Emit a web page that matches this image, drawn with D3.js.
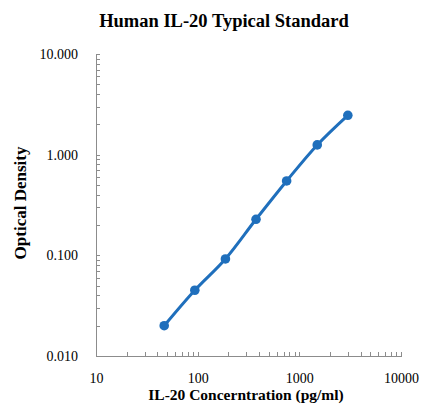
<!DOCTYPE html>
<html lang="en">
<head>
<meta charset="UTF-8">
<title>Human IL-20 Typical Standard</title>
<style>
  body { margin: 0; background: #fff; }
  svg { font-family: "Liberation Serif", "Times New Roman", serif; }
  .axis path, .axis line { stroke: #8c8c8c; fill: none; shape-rendering: crispEdges; }
  .axis text { font-size: 14px; fill: #000; font-family: "Liberation Serif", serif; }
  .title { font-size: 18.5px; font-weight: bold; }
  .label { font-weight: bold; }
</style>
<script src="https://d3js.org/d3.v7.min.js"></script>
</head>
<body>
<div id="chart"></div>
<script>
  const concentration = [46.875, 93.75, 187.5, 375, 750, 1500, 3000];
  const opticalDensity = [0.020, 0.045, 0.092, 0.228, 0.548, 1.25, 2.46];
  const xTicks = [10, 100, 1000, 10000];
  const yTicks = [0.01, 0.1, 1, 10];

  const width = 423, height = 405;
  const margin = { top: 54, right: 22, bottom: 49, left: 96 };

  const svg = d3.select("#chart").append("svg")
    .attr("width", width).attr("height", height);

  const x = d3.scaleLog().domain([10, 10000]).range([margin.left, width - margin.right]);
  const y = d3.scaleLog().domain([0.01, 10]).range([height - margin.bottom, margin.top]);

  // minor ticks for each decade
  const minor = (lo, hi) => {
    const out = [];
    for (let d = lo; d < hi; d *= 10)
      for (let k = 1; k <= 10; k++) out.push(d * k);
    return out;
  };

  svg.append("g").attr("class", "axis")
    .attr("transform", `translate(0,${height - margin.bottom})`)
    .call(d3.axisBottom(x).tickValues(minor(10, 10000)).tickSize(-4).tickFormat(""));

  svg.append("g").attr("class", "axis")
    .attr("transform", `translate(0,${height - margin.bottom})`)
    .call(d3.axisBottom(x).tickValues(xTicks).tickSize(0).tickPadding(17).tickFormat(d3.format("d")))
    .select(".domain").remove();

  svg.append("g").attr("class", "axis")
    .attr("transform", `translate(${margin.left},0)`)
    .call(d3.axisLeft(y).tickValues(minor(0.01, 10)).tickSize(-4).tickFormat(""));

  svg.append("g").attr("class", "axis")
    .attr("transform", `translate(${margin.left},0)`)
    .call(d3.axisLeft(y).tickValues(yTicks).tickSize(0).tickPadding(18).tickFormat(d3.format(".3f")))
    .select(".domain").remove();

  const data = concentration.map((c, i) => ({ c, od: opticalDensity[i] }));

  svg.append("path")
    .datum(data)
    .attr("fill", "none")
    .attr("stroke", "#1f6fbc")
    .attr("stroke-width", 3)
    .attr("d", d3.line().x(d => x(d.c)).y(d => y(d.od)).curve(d3.curveCatmullRom));

  svg.selectAll("circle.pt")
    .data(data)
    .enter().append("circle")
    .attr("class", "pt")
    .attr("cx", d => x(d.c))
    .attr("cy", d => y(d.od))
    .attr("r", 4.8)
    .attr("fill", "#1f6fbc");

  svg.append("text").attr("class", "title")
    .attr("x", 224).attr("y", 27).attr("text-anchor", "middle")
    .text("Human IL-20 Typical Standard");

  svg.append("text").attr("class", "label")
    .attr("x", 246).attr("y", 400).attr("text-anchor", "middle")
    .style("font-size", "15.5px")
    .text("IL-20 Concerntration (pg/ml)");

  svg.append("text").attr("class", "label")
    .attr("transform", "translate(26,203) rotate(-90)")
    .attr("text-anchor", "middle")
    .style("font-size", "17px")
    .text("Optical Density");
</script>
</body>
</html>
